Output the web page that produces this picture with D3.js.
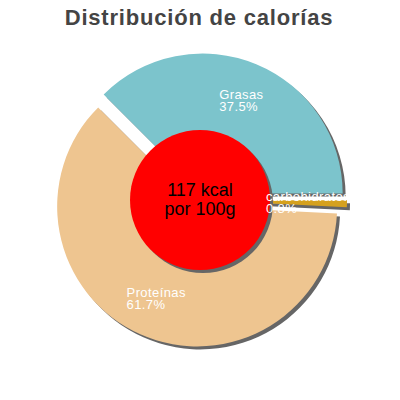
<!DOCTYPE html>
<html>
<head>
<meta charset="utf-8">
<script src="https://cdn.jsdelivr.net/npm/d3@7/dist/d3.min.js"></script>
<style>
  html, body { margin: 0; padding: 0; background: #fff; }
  svg { display: block; }
</style>
</head>
<body>
<svg id="chart" width="400" height="400"></svg>
<script>
const title = "Distribución de calorías";
const categories = ["Grasas", "carbohidratos", "Proteínas"];
const values = [37.5, 0.8, 61.7];
const percentLabels = ["37.5%", "0.8%", "61.7%"];
const colors = ["#7cc4cc", "#d5a11e", "#eec590"];
const centerLines = ["117 kcal", "por 100g"];

const W = 400, H = 400;
const cx = 200, cy = 200;
const R = 140, innerR = 70, explode = 7, labelR = 108;
const shadowDX = 3, shadowDY = 3;
const deg = Math.PI / 180;

const svg = d3.select("#chart");

svg.append("text")
  .attr("x", 199).attr("y", 25)
  .attr("text-anchor", "middle")
  .attr("font-family", "Liberation Sans, Arial, sans-serif")
  .attr("font-weight", "bold")
  .attr("font-size", 22)
  .attr("letter-spacing", 0.8)
  .attr("fill", "#444444")
  .text(title);

const pie = d3.pie().sort(null).value(d => d)
  .startAngle(-45 * deg).endAngle(315 * deg);
const arcs = pie(values);
const arc = d3.arc().innerRadius(0).outerRadius(R);

const off = d => {
  const m = (d.startAngle + d.endAngle) / 2;
  return [explode * Math.sin(m), -explode * Math.cos(m)];
};

const g = svg.append("g").attr("transform", `translate(${cx},${cy})`);

// shadows
g.selectAll("path.shadow").data(arcs).enter().append("path")
  .attr("class", "shadow")
  .attr("d", arc)
  .attr("fill", "#666666")
  .attr("transform", d => { const o = off(d); return `translate(${o[0] + shadowDX},${o[1] + shadowDY})`; });

// slices
g.selectAll("path.slice").data(arcs).enter().append("path")
  .attr("class", "slice")
  .attr("d", arc)
  .attr("fill", (d, i) => colors[i])
  .attr("transform", d => { const o = off(d); return `translate(${o[0]},${o[1]})`; });

// center circle
g.append("circle").attr("cx", shadowDX).attr("cy", shadowDY).attr("r", innerR).attr("fill", "#666666");
g.append("circle").attr("cx", 0).attr("cy", 0).attr("r", innerR).attr("fill", "#ff0000");

g.selectAll("text.center").data(centerLines).enter().append("text")
  .attr("class", "center")
  .attr("x", 0)
  .attr("y", (d, i) => -4 + i * 18.5)
  .attr("text-anchor", "middle")
  .attr("font-family", "Liberation Sans, Arial, sans-serif")
  .attr("font-size", 18)
  .attr("fill", "#000")
  .text(d => d);

// labels
svg.append("clipPath").attr("id", "lblclip")
  .append("rect").attr("x", 0).attr("y", 0).attr("width", 346).attr("height", H);

const lg = svg.append("g").attr("clip-path", "url(#lblclip)")
  .append("g").attr("transform", `translate(${cx},${cy})`);

arcs.forEach((d, i) => {
  const m = (d.startAngle + d.endAngle) / 2;
  const px = labelR * Math.sin(m), py = -labelR * Math.cos(m);
  const t = lg.append("text")
    .attr("font-family", "Liberation Sans, Arial, sans-serif")
    .attr("font-size", 13)
    .attr("letter-spacing", 0.4)
    .attr("fill", "#ffffff");
  const l1 = t.append("tspan").attr("y", py - 1.5).text(categories[i]);
  const l2 = t.append("tspan").attr("y", py + 10.5).text(percentLabels[i]);
  const w = Math.max(l1.node().getComputedTextLength(), l2.node().getComputedTextLength());
  l1.attr("x", px - w / 2);
  l2.attr("x", px - w / 2);
});
</script>
</body>
</html>
